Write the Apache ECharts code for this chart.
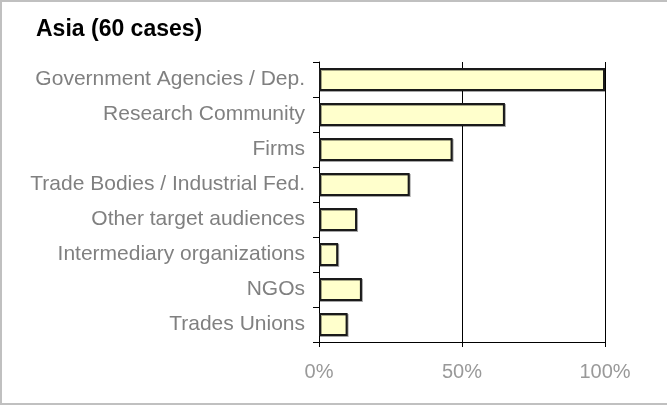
<!DOCTYPE html>
<html>
<head>
<meta charset="utf-8">
<script src="https://cdn.jsdelivr.net/npm/echarts@6/dist/echarts.min.js"></script>
<style>
  html, body { margin: 0; padding: 0; background: #fff; }
  #chart { width: 667px; height: 405px; }
</style>
</head>
<body>
<div id="chart"></div>
<script>
// Target audiences reached, share of the 60 Asian cases
const titleText = 'Asia (60 cases)';
const categories = [
  'Government Agencies / Dep.',
  'Research Community',
  'Firms',
  'Trade Bodies / Industrial Fed.',
  'Other target audiences',
  'Intermediary organizations',
  'NGOs',
  'Trades Unions'
];
const shares = [100, 65, 46.7, 31.7, 13.3, 6.7, 15, 10];
const xTicks = [0, 50, 100];

const chart = echarts.init(document.getElementById('chart'), null, { renderer: 'canvas' });

chart.setOption({
  animation: false,
  backgroundColor: '#ffffff',
  textStyle: { fontFamily: '"Liberation Sans", Arial, sans-serif' },
  title: {
    text: titleText,
    left: 36,
    top: 18,
    padding: 0,
    textStyle: {
      fontFamily: '"Liberation Sans", Arial, sans-serif',
      fontSize: 23,
      fontWeight: 'bold',
      color: '#000'
    }
  },
  graphic: [
    { type: 'line', shape: { x1: 0, y1: 1, x2: 667, y2: 1 }, style: { stroke: '#c0c0c0', lineWidth: 2 } },
    { type: 'line', shape: { x1: 1, y1: 0, x2: 1, y2: 405 }, style: { stroke: '#c0c0c0', lineWidth: 2 } },
    { type: 'line', shape: { x1: 0, y1: 404, x2: 667, y2: 404 }, style: { stroke: '#c0c0c0', lineWidth: 2 } }
  ],
  grid: { left: 319, right: 62, top: 62, bottom: 63 },
  xAxis: {
    type: 'value',
    min: xTicks[0],
    max: xTicks[xTicks.length - 1],
    interval: xTicks[1] - xTicks[0],
    axisLine: { show: true, lineStyle: { color: '#000', width: 1 } },
    axisTick: { show: true, length: 5, lineStyle: { color: '#000' } },
    splitLine: { show: true, lineStyle: { color: '#000', width: 1 } },
    axisLabel: {
      formatter: '{value}%',
      color: '#999',
      fontSize: 20,
      margin: 20,
      fontFamily: '"Liberation Sans", Arial, sans-serif'
    }
  },
  yAxis: {
    type: 'category',
    inverse: true,
    data: categories,
    axisLine: { show: true, lineStyle: { color: '#000', width: 1 } },
    axisTick: { show: true, length: 6, lineStyle: { color: '#000' } },
    axisLabel: {
      color: '#808080',
      fontSize: 21,
      margin: 14,
      fontFamily: '"Liberation Sans", Arial, sans-serif'
    }
  },
  series: [{
    type: 'bar',
    data: shares,
    barWidth: 23,
    itemStyle: {
      color: '#ffffcc',
      borderColor: '#1a1a1a',
      borderWidth: 2,
      shadowColor: 'rgba(0,0,0,0.35)',
      shadowOffsetX: 1,
      shadowOffsetY: 1,
      shadowBlur: 0
    }
  }]
});
</script>
</body>
</html>
